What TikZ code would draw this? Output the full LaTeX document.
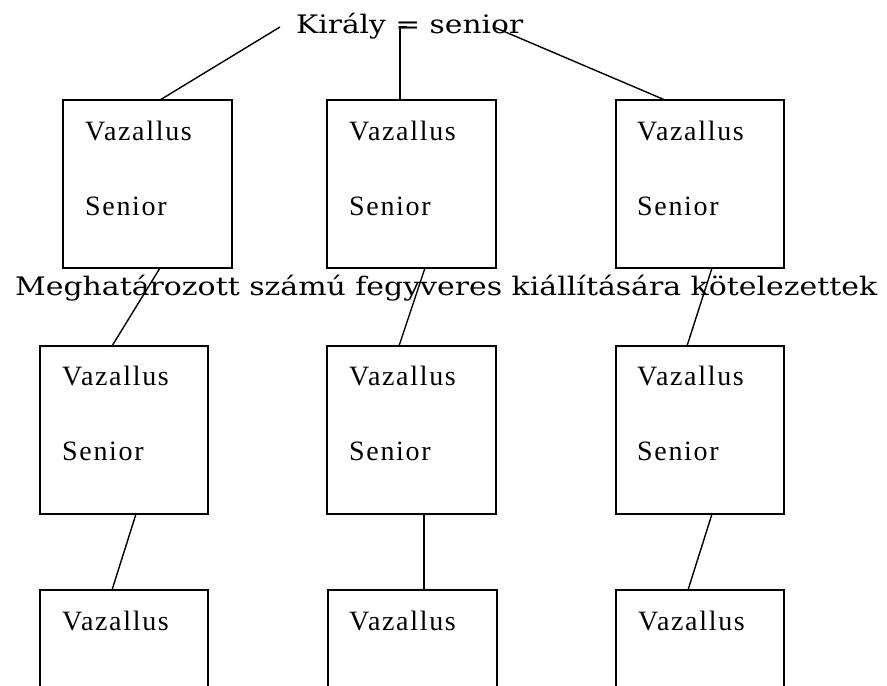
\documentclass[tikz,border=0pt]{standalone}
\usepackage{fontspec}
\setmainfont{Liberation Serif}
\newfontfamily\boxfont[LetterSpace=6]{Liberation Serif}
\newfontfamily\headfont{DejaVu Serif}
\usetikzlibrary{calc}
\begin{document}
\begin{tikzpicture}[x=1pt,y=-1pt,
  vbox/.style={draw, line width=1.6pt, minimum width=169pt, minimum height=168pt, anchor=north west, inner sep=0pt, outer sep=0pt},
  lbl/.style={anchor=base west, inner sep=0pt, font=\boxfont\fontsize{28}{33}\selectfont},
  head/.style={anchor=base west, inner sep=0pt, font=\headfont\fontsize{25.5}{30}\selectfont},
  conn/.style={line width=1.4pt}]
\clip (0,0) rectangle (887,686);
\fill[white] (0,0) rectangle (887,686);

% title
\node[head] (king) at (296,33) {\resizebox{227pt}{\height}{Király = senior}};

% row 1
\node[vbox] (r1a) at (63,100) {};
\node[vbox] (r1b) at (327,100) {};
\node[vbox, minimum width=168pt] (r1c) at (616,100) {};
\node[lbl] (t1a1) at (85,140) {Vazallus};
\node[lbl] (t1a2) at (85,215) {Senior};
\node[lbl] (t1b1) at (349,140) {Vazallus};
\node[lbl] (t1b2) at (349,215) {Senior};
\node[lbl] (t1c1) at (637,140) {Vazallus};
\node[lbl] (t1c2) at (637,215) {Senior};

% row 2
\node[vbox, minimum width=168pt] (r2a) at (40,346) {};
\node[vbox] (r2b) at (327,346) {};
\node[vbox, minimum width=168pt] (r2c) at (616,346) {};
\node[lbl] (t2a1) at (62,385) {Vazallus};
\node[lbl] (t2a2) at (62,460) {Senior};
\node[lbl] (t2b1) at (349,385) {Vazallus};
\node[lbl] (t2b2) at (349,460) {Senior};
\node[lbl] (t2c1) at (637,385) {Vazallus};
\node[lbl] (t2c2) at (637,460) {Senior};

% row 3 (cut off at the bottom)
\node[vbox, minimum width=168pt] (r3a) at (40,590) {};
\node[vbox] (r3b) at (328,590) {};
\node[vbox, minimum width=168pt] (r3c) at (616,590) {};
\node[lbl] (t3a1) at (62,630) {Vazallus};
\node[lbl] (t3b1) at (349,630) {Vazallus};
\node[lbl] (t3c1) at (638,630) {Vazallus};

% middle caption
\node[head] (duty) at (15,295) {\resizebox{862pt}{\height}{Meghatározott számú fegyveres kiállítására kötelezettek}};

% connectors: king -> row 1
\coordinate (k1) at (280,27);
\coordinate (k2) at (400,27);
\coordinate (k3) at (496,28);
\draw[conn] (k1) -- ([xshift=97pt]r1a.north west);
\draw[conn] ([xshift=73pt]r1b.north west) -- (k2) -- ++(7,0);
\draw[conn] (k3) -- ([xshift=49pt]r1c.north west);

% row 1 -> row 2
\draw[conn] ([xshift=97pt]r1a.south west) -- ([xshift=72pt]r2a.north west);
\draw[conn] ([xshift=98pt]r1b.south west) -- ([xshift=72pt]r2b.north west);
\draw[conn] ([xshift=96pt]r1c.south west) -- ([xshift=71pt]r2c.north west);

% row 2 -> row 3
\draw[conn] ([xshift=96pt]r2a.south west) -- ([xshift=72pt]r3a.north west);
\draw[conn] ([xshift=97pt]r2b.south west) -- ([xshift=96pt]r3b.north west);
\draw[conn] ([xshift=96pt]r2c.south west) -- ([xshift=72pt]r3c.north west);
\end{tikzpicture}
\end{document}
